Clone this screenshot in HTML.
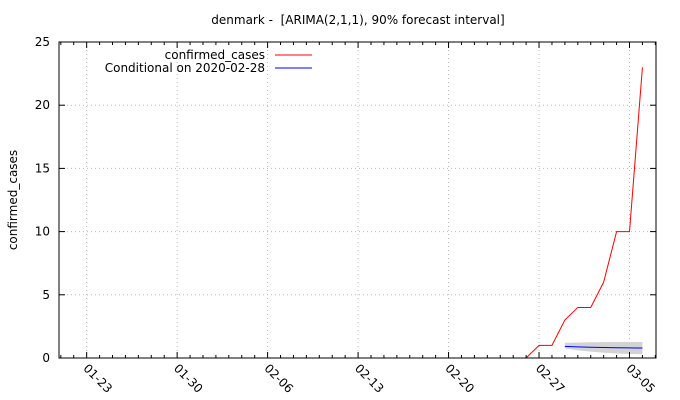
<!DOCTYPE html>
<html><head><meta charset="utf-8"><style>
body{margin:0;background:#fff}
svg{display:block;font-family:"DejaVu Sans","Liberation Sans",sans-serif}
</style></head><body>
<svg id="chart" width="680" height="400">
<rect width="680" height="400" fill="#fff"/>
<text x="358" y="24" text-anchor="middle" font-size="12">denmark - &#160;[ARIMA(2,1,1), 90% forecast interval]</text>
<text transform="translate(17,200) rotate(-90)" text-anchor="middle" font-size="12">confirmed_cases</text>
<g id="grid"></g>
<g id="band"></g>
<g id="series"></g>
<g id="axes"></g>
<g>
<text x="265" y="59" text-anchor="end" font-size="12">confirmed_cases</text>
<line x1="275" y1="55" x2="312" y2="55" stroke="#f00"/>
<text x="265" y="72" text-anchor="end" font-size="12">Conditional on 2020-02-28</text>
<line x1="275" y1="68" x2="312" y2="68" stroke="#00f"/>
</g>
</svg>
<script>
// days since 01-23
const xTickDays=[0,7,14,21,28,35,42];
const xTickLabels=["01-23","01-30","02-06","02-13","02-20","02-27","03-05"];
const yTicks=[0,5,10,15,20,25];
const caseDays=[-1,0,1,2,3,4,5,6,7,8,9,10,11,12,13,14,15,16,17,18,19,20,21,22,23,24,25,26,27,28,29,30,31,32,33,34,35,36,37,38,39,40,41,42,43];
const caseValues=[0,0,0,0,0,0,0,0,0,0,0,0,0,0,0,0,0,0,0,0,0,0,0,0,0,0,0,0,0,0,0,0,0,0,0,0,1,1,3,4,4,6,10,10,23];
const fcDays=[37,38,39,40,41,42,43];
const fcMean=[0.92,0.88,0.85,0.83,0.81,0.80,0.79];
const fcLow=[0.75,0.6,0.5,0.42,0.36,0.32,0.3];
const fcHigh=[1.2,1.23,1.25,1.26,1.27,1.27,1.28];

const L=59,R=656,T=42,B=358,X0=-2.14,X1=44.05,Y0=0,Y1=25;
const sx=d=>L+(d-X0)/(X1-X0)*(R-L);
const sy=v=>B-(v-Y0)/(Y1-Y0)*(B-T);
const NS="http://www.w3.org/2000/svg";
function mk(tag,attrs,parent){const e=document.createElementNS(NS,tag);for(const k in attrs)e.setAttribute(k,attrs[k]);parent.appendChild(e);return e;}
const grid=document.getElementById('grid'),axes=document.getElementById('axes'),series=document.getElementById('series'),band=document.getElementById('band');

yTicks.forEach(v=>{
  const y=sy(v);
  if(v>0&&v<25){const g=mk('line',{x1:L,x2:R,y1:y,y2:y,stroke:'#bbb','stroke-dasharray':'1,3'},grid);
  
  }
  const t1=mk('line',{x1:L,x2:L+6,y1:y,y2:y,stroke:'#000'},axes);
  
  
  const t2=mk('line',{x1:R-6,x2:R,y1:y,y2:y,stroke:'#000'},axes);
  
  
  const lb=mk('text',{x:L-9,y:y+4,'text-anchor':'end','font-size':12},axes);
  lb.textContent=v;
  
  
});
for(let d=Math.ceil(X0);d<=X1;d++){
  const x=sx(d);
  const major=xTickDays.indexOf(d)>=0;
  const len=major?6:3;
  const a=mk('line',{x1:x,x2:x,y1:B,y2:B-len,stroke:'#000'},axes);
  
  
  const b=mk('line',{x1:x,x2:x,y1:T,y2:T+len,stroke:'#000'},axes);
  
  
}
xTickDays.forEach((d,i)=>{
  const x=sx(d);
  const g=mk('line',{x1:x,x2:x,y1:T,y2:B,stroke:'#bbb','stroke-dasharray':'1,3'},grid);
  
  
  const t=mk('text',{x:0,y:0,'font-size':12,transform:`translate(${x-4},${B+11}) rotate(45)`},axes);
  t.textContent=xTickLabels[i];
  
  
});
const frame=mk('rect',{x:L,y:T,width:R-L,height:B-T,fill:'none',stroke:'#000'},axes);



let bp=fcDays.map((d,i)=>sx(d)+','+sy(fcHigh[i])).concat(fcDays.map((d,i)=>sx(d)+','+sy(fcLow[i])).reverse()).join(' ');
const poly=mk('polygon',{points:bp,fill:'#d3d3d3'},band);



const red=mk('polyline',{points:caseDays.map((d,i)=>sx(d)+','+sy(caseValues[i])).join(' '),fill:'none',stroke:'#f00','stroke-width':1},series);


const blue=mk('polyline',{points:fcDays.map((d,i)=>sx(d)+','+sy(fcMean[i])).join(' '),fill:'none',stroke:'#00f','stroke-width':1},series);


</script>
</body></html>
